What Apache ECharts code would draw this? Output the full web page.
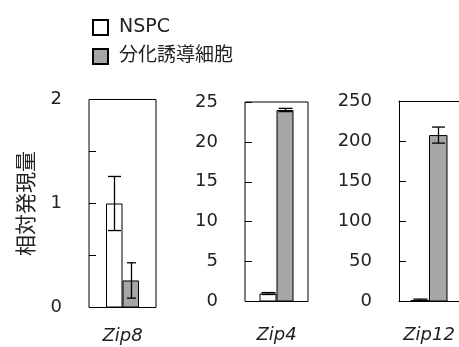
<!DOCTYPE html>
<html><head><meta charset="utf-8">
<script src="https://cdn.jsdelivr.net/npm/echarts@6/dist/echarts.min.js"></script>
<style>html,body{margin:0;padding:0;background:#fff}#c{width:459px;height:347px}</style>
</head><body><div id="c"></div>
<script>
const genes = ['Zip8', 'Zip4', 'Zip12'];
const seriesNames = ['NSPC', '分化誘導細胞'];
const nspcValues = [1.0, 1.0, 2];
const nspcErrors = [0.26, 0.12, 1];
const diffValues = [0.26, 24, 207.5];
const diffErrors = [0.17, 0.2, 10];
const yMax = [2, 25, 250];
const yInterval = [0.5, 5, 50];
const yLabelStep = [1, 5, 50];

const FONT = '"DejaVu Sans", "Noto Sans CJK JP", sans-serif';
const CJK = '"Noto Sans CJK JP", sans-serif';
const grids = [
  {left: 89, top: 99.5, width: 67, height: 208, show: true},
  {left: 245, top: 102, width: 63, height: 199.5, show: true},
  {left: 399, top: 101, width: 64, height: 200.5, show: false}
];
const barW = [16.5, 17, 18.5];
const capHalf = [[6.5, 4.5], [7, 7], [7, 6.5]];
const labelMargins = [20, 25, 25];

const option = {
  animation: false,
  backgroundColor: '#fff',
  textStyle: {fontFamily: FONT},
  legend: {
    orient: 'vertical', left: 87, top: 13, itemWidth: 15, itemHeight: 15, itemGap: 10,
    icon: 'rect',
    data: seriesNames,
    textStyle: {fontSize: 19, color: '#222', fontFamily: FONT, padding: [0, 0, 0, 6]}
  },
  grid: grids.map(g => Object.assign({borderColor: '#000', borderWidth: 1, backgroundColor: 'transparent', containLabel: false}, g)),
  xAxis: genes.map((g, i) => ({
    type: 'category', gridIndex: i, data: [g],
    axisLine: {show: i === 2, lineStyle: {color: '#000', width: 1}}, axisTick: {show: false},
    axisLabel: {fontSize: 18, fontStyle: 'italic', color: '#222', margin: labelMargins[i], fontFamily: FONT}
  })).concat([{
    type: 'category', gridIndex: 2, position: 'top', data: [''],
    axisLine: {show: true, lineStyle: {color: '#000', width: 1}}, axisTick: {show: false}, axisLabel: {show: false}
  }]),
  yAxis: genes.map((g, i) => ({
    type: 'value', gridIndex: i, min: 0, max: yMax[i], interval: yInterval[i],
    name: i === 0 ? '相対発現量' : '', nameLocation: 'middle', nameGap: 53, nameRotate: 90,
    nameTextStyle: {fontSize: 21, color: '#222', fontFamily: CJK},
    splitLine: {show: false},
    axisLine: {show: i === 2, lineStyle: {color: '#000', width: 1}},
    axisTick: {show: true, inside: true, length: 7, lineStyle: {color: '#000'}},
    axisLabel: {fontSize: 18, color: '#222', margin: 27, fontFamily: FONT,
      formatter: v => (Math.abs(v / yLabelStep[i] - Math.round(v / yLabelStep[i])) < 1e-9) ? String(v) : ''}
  })),
  series: []
};

function errSeries(i, vals, errs, sign, k) {
  return {
    type: 'custom', xAxisIndex: i, yAxisIndex: i, z: 5,
    data: [[0, vals[i], errs[i]]],
    renderItem: function (params, api) {
      const v = api.value(1), e = api.value(2);
      const c = api.coord([0, v]);
      const t = api.coord([0, v + e]);
      const b = api.coord([0, Math.max(0, v - e)]);
      const x = Math.round(c[0] + sign * barW[i] / 2) + 0.5;
      const cap = capHalf[i][k];
      const st = {stroke: '#000', lineWidth: 1.3};
      return {type: 'group', children: [
        {type: 'line', shape: {x1: x, y1: t[1], x2: x, y2: b[1]}, style: st},
        {type: 'line', shape: {x1: x - cap, y1: t[1], x2: x + cap, y2: t[1]}, style: st},
        {type: 'line', shape: {x1: x - cap, y1: b[1], x2: x + cap, y2: b[1]}, style: st}
      ]};
    }
  };
}

genes.forEach((g, i) => {
  option.series.push({
    name: seriesNames[0], type: 'bar', xAxisIndex: i, yAxisIndex: i,
    data: [nspcValues[i]], barWidth: barW[i], barGap: '0%',
    itemStyle: {color: '#fff', borderColor: '#000', borderWidth: 1}
  });
  option.series.push({
    name: seriesNames[1], type: 'bar', xAxisIndex: i, yAxisIndex: i,
    data: [diffValues[i]], barWidth: barW[i], barGap: '0%',
    itemStyle: {color: '#a6a6a6', borderColor: '#000', borderWidth: 1}
  });
  option.series.push(errSeries(i, nspcValues, nspcErrors, -1, 0));
  option.series.push(errSeries(i, diffValues, diffErrors, 1, 1));
});

const chart = echarts.init(document.getElementById('c'), null, {renderer: 'canvas'});
chart.setOption(option);
</script></body></html>
